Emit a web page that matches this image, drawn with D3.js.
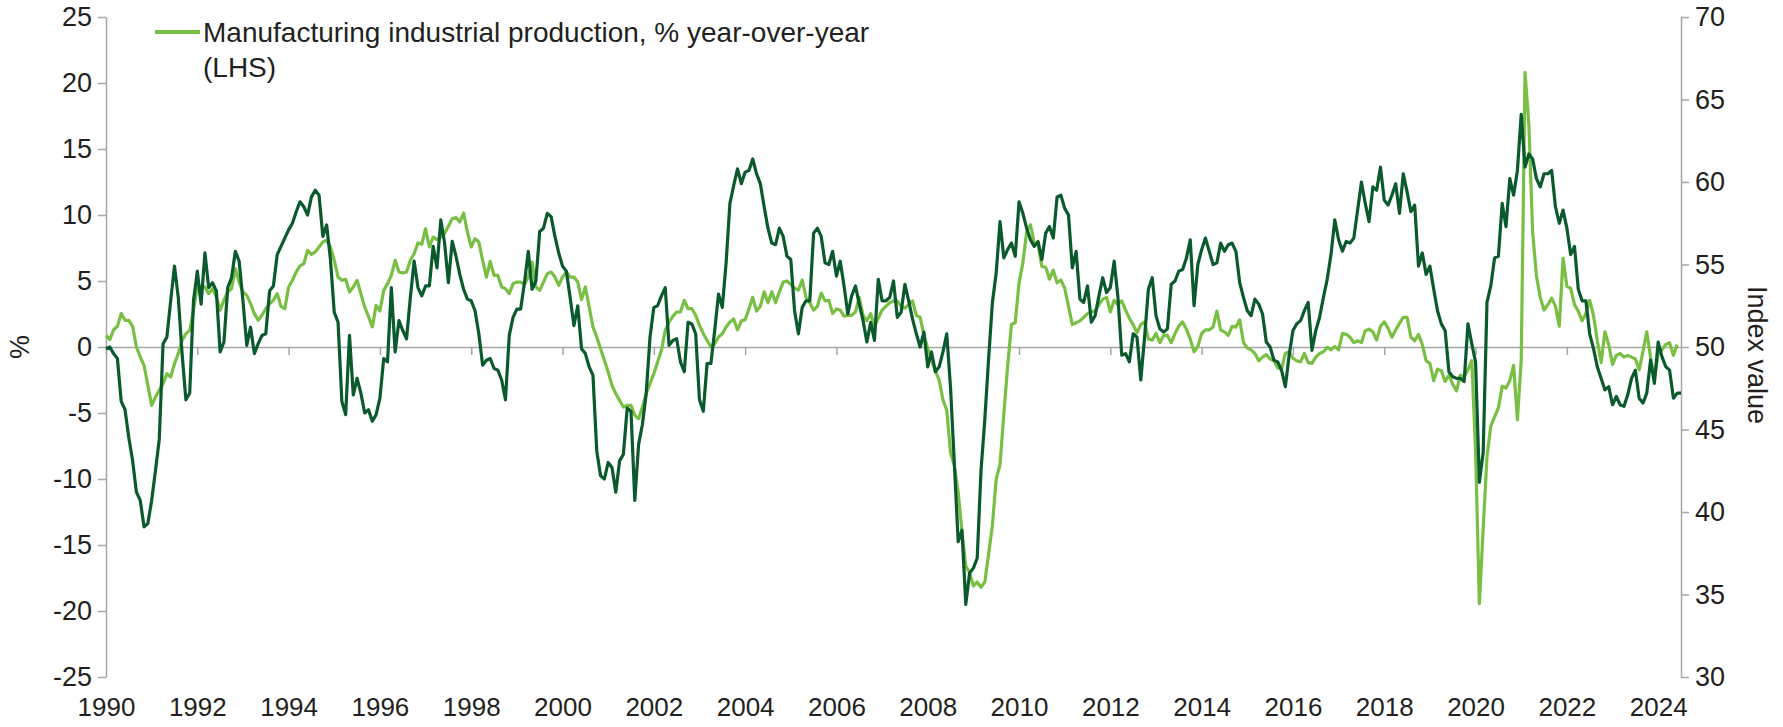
<!DOCTYPE html>
<html><head><meta charset="utf-8">
<script src="https://cdn.jsdelivr.net/npm/d3@7"></script>
<style>
body{margin:0;background:#fff;}
svg text{font-family:"Liberation Sans",Arial,sans-serif;fill:#231f20;}
</style></head><body>
<svg id="chart" width="1783" height="727"></svg>
<script>
// Categories: monthly, first category = March 1990; label every 24 months
const firstCategory = "1990-03";
const tickLabels = ["1990","1992","1994","1996","1998","2000","2002","2004","2006","2008","2010","2012","2014","2016","2018","2020","2022","2024"];
const leftTicks = [25,20,15,10,5,0,-5,-10,-15,-20,-25];
const rightTicks = [70,65,60,55,50,45,40,35,30];

// Manufacturing industrial production, % y/y (LHS)
const ipYoY = [
0.88,0.56,1.31,1.57,2.53,2.02,2.02,1.57,0.0,-0.76,
-1.39,-2.9,-4.42,-3.79,-3.28,-2.78,-2.02,-2.27,-1.26,-0.5,
0.5,1.01,1.26,2.78,4.55,4.6,4.55,4.04,4.42,3.79,
2.78,3.54,4.17,4.42,5.93,4.92,4.17,3.91,3.28,2.53,
2.02,2.4,2.9,3.28,3.54,4.04,3.08,2.9,4.55,5.05,
5.68,6.14,6.31,7.32,7.02,7.2,7.58,7.95,8.08,7.58,
6.57,5.3,5.05,5.13,4.17,4.55,5.05,4.04,3.03,2.32,
1.52,3.16,2.73,4.29,4.8,5.43,6.57,5.68,5.61,5.68,
6.57,7.07,7.88,7.78,8.96,7.58,8.33,8.13,8.33,8.59,
9.14,9.72,9.8,9.47,10.15,8.71,7.58,8.21,7.95,6.57,
5.3,6.49,5.43,5.43,4.55,4.42,4.04,4.8,4.92,4.92,
4.75,5.3,6.44,4.55,4.29,4.92,5.56,5.68,5.3,4.67,
5.3,5.68,5.3,5.3,4.92,3.59,4.55,3.03,1.52,0.76,
-0.13,-1.01,-1.89,-2.9,-3.54,-4.04,-4.55,-4.42,-4.42,-5.18,
-5.43,-4.55,-3.54,-2.78,-2.02,-1.14,-0.25,1.26,1.89,2.32,
2.65,2.65,3.54,2.9,2.9,2.4,1.64,1.01,0.5,0.0,
0.25,0.76,1.01,1.52,1.9,2.12,1.29,1.98,2.06,2.88,
3.76,2.72,3.08,4.18,3.35,4.18,3.35,4.18,4.92,5.0,
4.73,4.45,4.31,5.08,3.76,3.35,2.8,3.08,4.09,3.49,
3.54,2.53,2.88,2.8,2.34,2.39,2.39,2.66,3.76,2.39,
1.98,2.53,1.57,2.17,2.8,3.08,3.35,3.49,3.49,3.08,
2.94,3.21,3.49,2.39,2.25,0.9,-0.1,-1.0,-1.8,-2.5,
-4.0,-4.8,-8.0,-9.0,-11.0,-14.0,-16.6,-17.1,-18.1,-17.8,
-18.2,-17.8,-15.7,-13.5,-10.0,-8.9,-5.08,-1.46,1.70,1.84,
4.86,6.37,8.71,9.26,7.88,7.75,6.1,6.04,5.14,5.82,
4.86,5.08,4.45,3.08,1.70,1.84,1.98,2.25,2.53,2.66,
2.72,3.21,3.63,3.76,2.66,3.54,3.21,3.49,2.8,2.17,
1.70,1.07,1.70,1.90,0.6,0.52,1.02,0.33,0.88,0.88,
0.33,1.02,1.57,1.90,1.35,0.6,-0.36,0.05,1.02,1.29,
1.29,1.51,2.72,1.29,1.15,0.88,1.57,1.51,2.06,0.33,
-0.08,-0.22,-0.49,-1.04,-0.77,-0.58,-0.91,-1.04,-1.59,-1.68,
-0.49,-0.36,-0.85,-1.04,-1.13,-0.49,-1.18,-1.24,-0.77,-0.49,
-0.36,-0.03,-0.22,0.05,-0.22,1.02,0.96,0.74,0.33,0.47,
0.33,1.24,1.35,1.15,0.52,1.57,1.90,1.43,0.74,1.29,
1.79,2.25,2.25,0.74,0.47,0.96,0.19,-1.04,-1.24,-2.55,
-1.68,-1.79,-2.61,-2.14,-2.83,-3.32,-2.14,-2.28,-1.73,-1.04,
-7.8,-19.45,-13.8,-8.32,-5.99,-5.3,-4.62,-2.97,-3.1,-2.55,
-1.4,-5.52,-1.0,20.8,16.9,8.7,5.4,3.76,2.8,3.2,
3.7,3.1,1.57,6.73,4.6,4.45,3.21,2.72,1.98,2.53,
3.54,2.39,0.47,-1.18,1.15,0.19,-1.32,-0.63,-0.49,-0.77,
-0.63,-0.77,-0.91,-1.73,-0.36,1.15,-0.77,-2.42,-0.49,-0.22,
0.19,0.33,-0.63,0.19
];

// Index value (RHS)
const indexValue = [
49.9,50.0,49.6,49.3,46.7,46.2,44.5,43.1,41.2,40.7,
39.1,39.3,40.7,42.5,44.4,50.2,50.6,52.8,54.9,53.0,
49.6,46.8,47.2,52.8,54.6,52.6,55.7,53.6,53.9,53.4,
49.7,50.3,53.6,54.2,55.8,55.2,52.8,50.1,51.2,49.6,
50.2,50.7,50.8,53.4,53.7,55.6,56.1,56.6,57.1,57.5,
58.2,58.8,58.5,58.0,59.1,59.5,59.2,56.7,57.4,55.3,
52.1,51.5,46.7,45.9,50.7,47.1,48.1,47.2,46.0,46.2,
45.5,45.9,46.9,49.3,49.1,53.6,49.7,51.6,51.0,50.5,
53.0,55.2,53.6,53.1,53.7,53.7,56.1,54.8,57.7,56.3,
53.9,56.4,55.5,54.4,53.5,52.9,52.8,52.2,50.8,48.9,
49.2,49.3,48.7,48.6,48.0,46.8,50.7,51.8,52.3,52.3,
53.9,55.8,53.5,54.0,57.0,57.2,58.1,57.9,56.7,55.7,
54.9,54.6,53.0,51.3,52.5,49.9,49.6,48.8,48.3,43.7,
42.2,42.0,43.0,42.7,41.2,43.1,43.5,46.3,46.1,40.7,
44.1,45.3,47.2,50.6,52.4,52.5,53.1,53.6,50.1,50.4,
50.5,49.1,48.5,51.5,51.4,50.8,46.8,46.1,49.0,49.0,
51.0,53.2,52.4,55.1,58.7,59.8,60.8,59.9,60.6,60.7,
61.4,60.5,59.9,58.5,57.2,56.3,56.2,57.2,56.7,55.5,
55.3,52.2,50.8,52.4,52.8,52.8,56.9,57.2,56.7,55.1,
55.0,55.8,54.3,55.2,53.7,52.0,53.1,53.7,52.6,51.6,
50.3,51.5,50.4,54.1,52.8,52.8,53.0,54.0,51.8,52.1,
53.8,52.8,51.7,50.8,50.0,50.9,48.8,49.7,48.5,48.8,
49.7,50.8,47.5,42.9,38.2,38.9,34.4,36.3,36.6,37.2,
42.5,45.6,49.3,52.7,54.5,57.6,55.4,55.9,56.3,55.5,
58.8,58.1,57.2,56.5,56.1,56.4,55.3,56.9,57.3,56.6,
59.1,59.2,58.4,58.0,54.8,55.8,52.9,52.7,53.7,51.5,
51.9,53.1,54.2,53.3,53.6,55.2,53.0,49.5,49.6,49.1,
50.8,50.6,48.0,50.6,53.5,54.2,51.9,51.1,50.9,51.1,
53.8,54.0,54.6,54.7,55.4,56.5,52.5,55.0,55.9,56.6,
55.8,55.0,55.1,56.3,55.8,56.2,56.3,55.8,53.9,53.0,
52.2,51.9,52.9,52.6,52.0,50.3,50.0,49.2,49.1,48.6,
47.6,49.5,51.0,51.4,51.6,52.2,52.7,49.8,51.0,51.8,
53.0,54.1,55.6,57.7,56.5,55.8,56.4,56.3,56.6,58.3,
60.0,58.7,57.6,59.7,59.5,60.9,58.9,58.6,59.2,59.9,
58.1,60.5,59.4,58.2,58.6,54.9,55.7,54.4,54.9,53.5,
52.2,51.4,51.0,48.5,48.2,48.1,48.1,47.9,51.4,50.2,
49.1,41.8,43.6,52.7,53.7,55.4,55.5,58.7,57.3,60.2,
59.2,60.7,64.1,60.9,61.7,61.4,60.2,59.7,60.5,60.5,
60.7,58.5,57.5,58.3,57.2,55.6,56.1,53.5,52.8,52.8,
50.8,49.9,48.8,48.1,47.4,47.6,46.5,47.0,46.5,46.4,
47.1,48.1,48.6,46.9,46.6,47.2,49.2,47.8,50.3,49.4,
48.8,48.6,46.9,47.2,47.2
];

const LIGHT = "#78bf43", DARK = "#0b5a2e", AXIS = "#a6a6a6", TEXT = "#231f20";
const X0 = 106, X1 = 1681, YT = 17, YB = 677;

const svg = d3.select("#chart");
const x = d3.scaleLinear().domain([0, indexValue.length - 1]).range([X0, X1]);
const yL = d3.scaleLinear().domain([-25, 25]).range([YB, YT]);
const yR = d3.scaleLinear().domain([30, 70]).range([YB, YT]);
const tickIdx = tickLabels.map((d, i) => i * 24);
const plain = d => String(d); // hyphen-minus like the original

function styleAxis(g, size) {
  g.selectAll(".domain").attr("stroke", AXIS).attr("stroke-width", 1.5);
  g.selectAll(".tick line").attr("stroke", AXIS).attr("stroke-width", 1.5);
  g.selectAll("text").attr("font-family", '"Liberation Sans", Arial, sans-serif')
    .attr("font-size", size).attr("fill", TEXT);
}

// category axis along zero line (tick marks only)
const gx = svg.append("g").attr("transform", `translate(0,${yL(0)})`)
  .call(d3.axisBottom(x).tickValues(tickIdx).tickSize(8).tickSizeOuter(0).tickFormat(""));
styleAxis(gx, 26);
// category labels at the bottom ("low" position)
const gxl = svg.append("g").attr("transform", `translate(0,${YB})`)
  .call(d3.axisBottom(x).tickValues(tickIdx).tickSize(0).tickPadding(21).tickFormat((d, i) => tickLabels[i]));
gxl.select(".domain").remove();
styleAxis(gxl, 26);

const gl = svg.append("g").attr("transform", `translate(${X0},0)`)
  .call(d3.axisLeft(yL).tickValues(leftTicks).tickSize(8).tickPadding(6).tickSizeOuter(0).tickFormat(plain));
styleAxis(gl, 27);
const gr = svg.append("g").attr("transform", `translate(${X1},0)`)
  .call(d3.axisRight(yR).tickValues(rightTicks).tickSize(8).tickPadding(6).tickSizeOuter(0).tickFormat(plain));
styleAxis(gr, 27);

// lines
const lineL = d3.line().x((d, i) => x(i)).y(d => yL(d));
const lineR = d3.line().x((d, i) => x(i)).y(d => yR(d));
svg.append("path").datum(ipYoY).attr("d", lineL).attr("fill", "none")
  .attr("stroke", LIGHT).attr("stroke-width", 3.2).attr("stroke-linejoin", "round");
svg.append("path").datum(indexValue).attr("d", lineR).attr("fill", "none")
  .attr("stroke", DARK).attr("stroke-width", 3.2).attr("stroke-linejoin", "round");

// axis titles
svg.append("text").attr("transform", `translate(29,${yL(0)}) rotate(-90)`)
  .attr("text-anchor", "middle").attr("font-size", 27).text("%");
svg.append("text").attr("transform", `translate(1748,${yL(0) + 8}) rotate(90)`)
  .attr("text-anchor", "middle").attr("font-size", 27).text("Index value");

// legend
const lg = svg.append("g");
lg.append("line").attr("x1", 155).attr("x2", 200).attr("y1", 32).attr("y2", 32)
  .attr("stroke", LIGHT).attr("stroke-width", 4);
lg.append("text").attr("x", 203).attr("y", 42).attr("font-size", 28)
  .text("Manufacturing industrial production, % year-over-year");
lg.append("text").attr("x", 203).attr("y", 77).attr("font-size", 28).text("(LHS)");
</script>
</body></html>
